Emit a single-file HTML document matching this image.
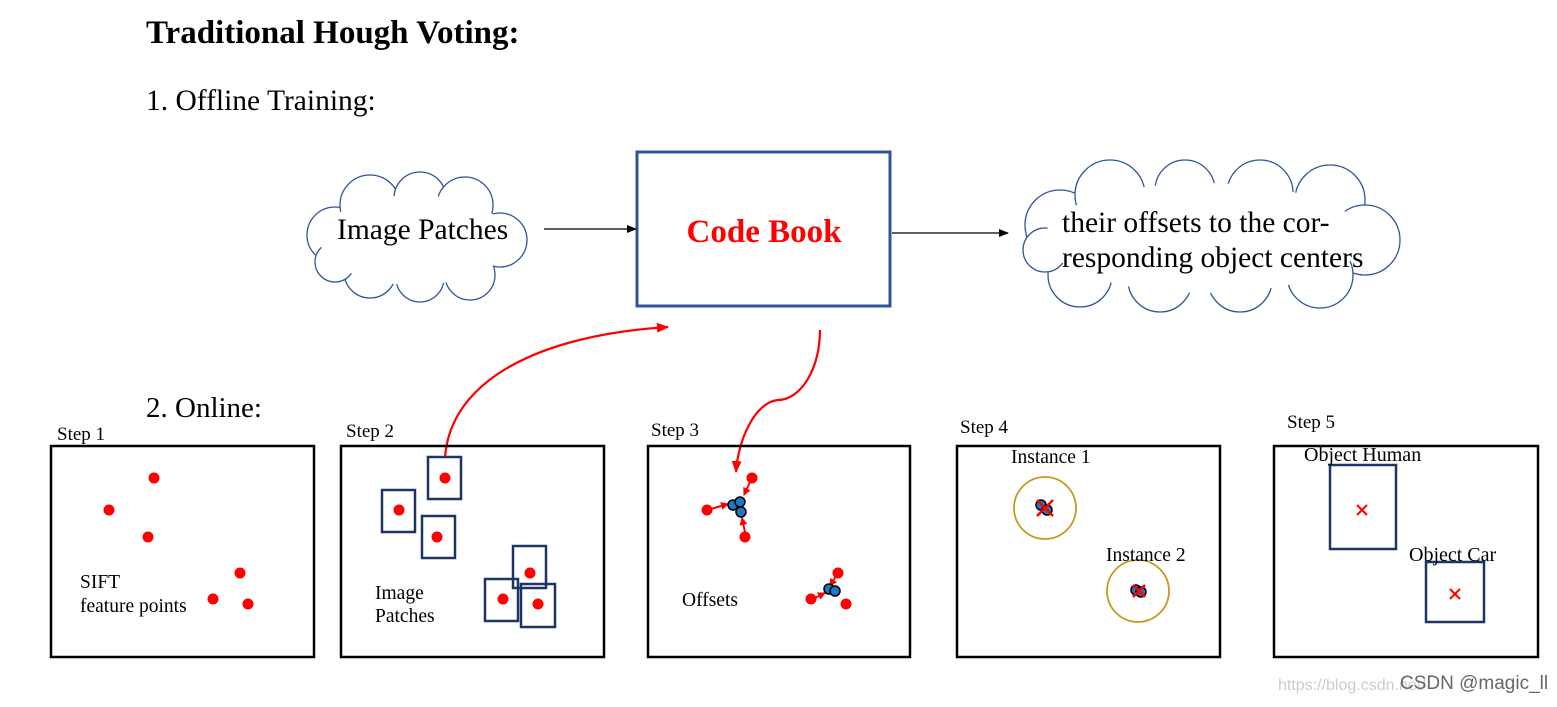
<!DOCTYPE html>
<html><head><meta charset="utf-8"><style>
body{margin:0;background:#fff;}
svg text{font-family:"Liberation Serif",serif;}
</style></head><body>
<svg width="1557" height="702" viewBox="0 0 1557 702" xmlns="http://www.w3.org/2000/svg">
<defs>
<marker id="ab" markerWidth="10" markerHeight="8" refX="9" refY="4" orient="auto" markerUnits="userSpaceOnUse"><path d="M0,0 L10,4 L0,8 z" fill="#000"/></marker>
<marker id="ar" markerWidth="12" markerHeight="10" refX="11" refY="5" orient="auto" markerUnits="userSpaceOnUse"><path d="M0,0 L12,5 L0,10 z" fill="#f00"/></marker>
<marker id="ar2" markerWidth="8" markerHeight="8" refX="7" refY="4" orient="auto" markerUnits="userSpaceOnUse"><path d="M0,0 L8,4 L0,8 z" fill="#f00"/></marker>
</defs>
<text x="146" y="43" font-size="33" font-weight="bold">Traditional Hough Voting:</text>
<text x="146" y="110" font-size="29.5">1. Offline Training:</text>
<text x="146" y="417" font-size="29">2. Online:</text>

<g fill="#fff" stroke="#2F5597" stroke-width="1.3">
<circle cx="335" cy="235" r="28"/><circle cx="370" cy="205" r="30"/><circle cx="420" cy="198" r="26"/>
<circle cx="465" cy="205" r="28"/><circle cx="500" cy="240" r="27"/><circle cx="470" cy="275" r="25"/>
<circle cx="420" cy="278" r="24"/><circle cx="370" cy="272" r="26"/><circle cx="335" cy="262" r="20"/>
</g>
<ellipse cx="415" cy="240" rx="95" ry="45" fill="#fff"/>
<text x="337" y="239" font-size="29.5">Image Patches</text>

<g fill="#fff" stroke="#2F5597" stroke-width="1.3">
<circle cx="1060" cy="225" r="35"/><circle cx="1110" cy="195" r="35"/><circle cx="1185" cy="190" r="30"/>
<circle cx="1260" cy="193" r="33"/><circle cx="1330" cy="200" r="35"/><circle cx="1365" cy="240" r="35"/>
<circle cx="1320" cy="275" r="33"/><circle cx="1240" cy="280" r="32"/><circle cx="1160" cy="280" r="32"/>
<circle cx="1080" cy="275" r="32"/><circle cx="1045" cy="250" r="22"/>
</g>
<ellipse cx="1205" cy="238" rx="160" ry="55" fill="#fff"/>
<text x="1062" y="232" font-size="29.5">their offsets to the cor-</text>
<text x="1062" y="267" font-size="29.5">responding object centers</text>

<rect x="637" y="152" width="253" height="154" fill="#fff" stroke="#2F5597" stroke-width="3"/>
<text x="764" y="242" font-size="33" font-weight="bold" fill="#f00" text-anchor="middle">Code Book</text>

<line x1="544" y1="229" x2="636" y2="229" stroke="#000" stroke-width="1.3" marker-end="url(#ab)"/>
<line x1="892" y1="233" x2="1008" y2="233" stroke="#000" stroke-width="1.3" marker-end="url(#ab)"/>

<path d="M445,458 C450,380 540,335 668,327" fill="none" stroke="#f00" stroke-width="2.2" marker-end="url(#ar)"/>
<path d="M820,330 C820,370 800,400 778,400 C755,402 738,440 736,472" fill="none" stroke="#f00" stroke-width="2.2" marker-end="url(#ar)"/>

<g fill="none" stroke="#000" stroke-width="2.5">
<rect x="51" y="446" width="263" height="211"/><rect x="341" y="446" width="263" height="211"/>
<rect x="648" y="446" width="262" height="211"/><rect x="957" y="446" width="263" height="211"/>
<rect x="1274" y="446" width="264" height="211"/>
</g>
<g font-size="19">
<text x="57" y="440">Step 1</text><text x="346" y="437">Step 2</text><text x="651" y="436">Step 3</text>
<text x="960" y="433">Step 4</text><text x="1287" y="428">Step 5</text>
</g>

<g fill="#f00"><circle cx="154" cy="478" r="5.5"/><circle cx="109" cy="510" r="5.5"/><circle cx="148" cy="537" r="5.5"/>
<circle cx="240" cy="573" r="5.5"/><circle cx="213" cy="599" r="5.5"/><circle cx="248" cy="604" r="5.5"/></g>
<text x="80" y="588" font-size="19.5">SIFT</text><text x="80" y="612" font-size="19.5">feature points</text>

<g fill="none" stroke="#1F3466" stroke-width="2.5">
<rect x="428" y="457" width="33" height="42"/><rect x="382" y="490" width="33" height="42"/>
<rect x="422" y="516" width="33" height="42"/><rect x="513" y="546" width="33" height="42"/>
<rect x="485" y="579" width="33" height="42"/><rect x="521" y="584" width="34" height="43"/>
</g>
<g fill="#f00"><circle cx="445" cy="478" r="5.5"/><circle cx="399" cy="510" r="5.5"/><circle cx="437" cy="537" r="5.5"/>
<circle cx="530" cy="573" r="5.5"/><circle cx="503" cy="599" r="5.5"/><circle cx="538" cy="604" r="5.5"/></g>
<text x="375" y="599" font-size="19.5">Image</text><text x="375" y="622" font-size="19.5">Patches</text>

<g fill="#f00"><circle cx="752" cy="478" r="5.5"/><circle cx="707" cy="510" r="5.5"/><circle cx="745" cy="537" r="5.5"/>
<circle cx="838" cy="573" r="5.5"/><circle cx="811" cy="599" r="5.5"/><circle cx="846" cy="604" r="5.5"/></g>
<g stroke="#f00" stroke-width="2" marker-end="url(#ar2)">
<line x1="750" y1="482" x2="744" y2="495"/><line x1="711" y1="509" x2="728" y2="504"/><line x1="745" y1="532" x2="742" y2="518"/>
<line x1="836" y1="576" x2="830" y2="586"/><line x1="815" y1="598" x2="825" y2="593"/>
</g>
<g fill="#1F77C4" stroke="#000" stroke-width="1.5">
<circle cx="733" cy="505" r="5"/><circle cx="740" cy="502" r="5"/><circle cx="741" cy="512" r="5"/>
<circle cx="829" cy="589" r="5"/><circle cx="835" cy="591" r="5"/>
</g>
<text x="682" y="606" font-size="19.5">Offsets</text>

<circle cx="1045" cy="508" r="31" fill="none" stroke="#C49A20" stroke-width="1.8"/>
<circle cx="1138" cy="591" r="31" fill="none" stroke="#C49A20" stroke-width="1.8"/>
<g fill="#1F77C4" stroke="#000" stroke-width="1.5">
<circle cx="1041" cy="505" r="5"/><circle cx="1047" cy="510" r="5"/><circle cx="1136" cy="590" r="5"/><circle cx="1141" cy="592" r="5"/>
</g>
<g stroke="#f00" stroke-width="2.5"><line x1="1037" y1="500" x2="1053" y2="516"/><line x1="1053" y1="500" x2="1037" y2="516"/>
<line x1="1133" y1="585" x2="1145" y2="597"/><line x1="1145" y1="585" x2="1133" y2="597"/></g>
<text x="1011" y="463" font-size="19.5">Instance 1</text><text x="1106" y="561" font-size="19.5">Instance 2</text>

<rect x="1330" y="465" width="66" height="84" fill="none" stroke="#1F3466" stroke-width="2.5"/>
<rect x="1426" y="562" width="58" height="60" fill="none" stroke="#1F3466" stroke-width="2.5"/>
<g stroke="#f00" stroke-width="2"><line x1="1357" y1="505" x2="1367" y2="515"/><line x1="1367" y1="505" x2="1357" y2="515"/>
<line x1="1450" y1="589" x2="1460" y2="599"/><line x1="1460" y1="589" x2="1450" y2="599"/></g>
<text x="1304" y="461" font-size="20">Object Human</text><text x="1409" y="561" font-size="20">Object Car</text>

<text x="1278" y="690" font-size="16" fill="#ccc" style="font-family:'Liberation Sans',sans-serif">https://blog.csdn.net/</text>
<text x="1400" y="689" font-size="19" fill="#666" style="font-family:'Liberation Sans',sans-serif">CSDN @magic_ll</text>
</svg>
</body></html>
